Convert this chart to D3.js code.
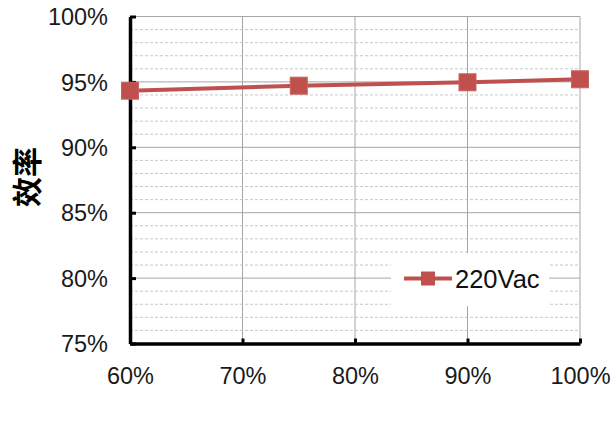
<!DOCTYPE html>
<html>
<head>
<meta charset="utf-8">
<script src="https://cdn.jsdelivr.net/npm/d3@7"></script>
<style>
  body { margin: 0; background: #fff; }
  svg { display: block; font-family: "Liberation Sans", Arial, sans-serif; }
</style>
</head>
<body>
<div id="chart"></div>
<script>
// data
const loads = [60, 75, 90, 100];            // load, %
const eff220 = [94.33, 94.71, 94.97, 95.2];  // efficiency, %
const seriesName = "220Vac";
const xTicks = [60, 70, 80, 90, 100];
const yTicks = [75, 80, 85, 90, 95, 100];
const yMinor = d3.range(75, 100.1, 1);
const yTitle = "效率";

const width = 612, height = 423;
const margin = { left: 130, top: 16.5, right: 32, bottom: 79.5 };
const red = "#C0504D";

const svg = d3.select("#chart").append("svg")
  .attr("width", width).attr("height", height);

const x = d3.scaleLinear().domain([60, 100]).range([margin.left, width - margin.right]);
const y = d3.scaleLinear().domain([75, 100]).range([height - margin.bottom, margin.top]);

// minor gridlines (dashed)
svg.append("g").selectAll("line")
  .data(yMinor.filter(v => v % 5 !== 0))
  .join("line")
  .attr("x1", x(60)).attr("x2", x(100))
  .attr("y1", d => y(d)).attr("y2", d => y(d))
  .attr("stroke", "#c8c8c8").attr("stroke-width", 1)
  .attr("stroke-dasharray", "3,2");

// major gridlines
svg.append("g").selectAll("line")
  .data(yTicks.slice(1))
  .join("line")
  .attr("x1", x(60)).attr("x2", x(100))
  .attr("y1", d => y(d)).attr("y2", d => y(d))
  .attr("stroke", "#a6a6a6").attr("stroke-width", 1);

svg.append("g").selectAll("line")
  .data(xTicks.slice(1))
  .join("line")
  .attr("x1", d => x(d)).attr("x2", d => x(d))
  .attr("y1", y(75)).attr("y2", y(100))
  .attr("stroke", "#a6a6a6").attr("stroke-width", 1);

// axes
const xAxis = d3.axisBottom(x).tickValues(xTicks).tickFormat(d => d + "%")
  .tickSizeInner(-5).tickSizeOuter(0).tickPadding(24);
const yAxis = d3.axisLeft(y).tickValues(yTicks).tickFormat(d => d + "%")
  .tickSizeInner(-6).tickSizeOuter(0).tickPadding(22);

const gx = svg.append("g")
  .attr("transform", `translate(0,${y(75)})`)
  .call(xAxis);
const gy = svg.append("g")
  .attr("transform", `translate(${x(60)},0)`)
  .call(yAxis);

[gx, gy].forEach(g => {
  g.select(".domain").attr("stroke", "#000").attr("stroke-width", 3.5);
  g.selectAll(".tick line").attr("stroke", "#000").attr("stroke-width", 3);
  g.selectAll(".tick text")
    .attr("font-size", 23.5).attr("fill", "#1a1a1a")
    .attr("font-family", "'Liberation Sans', Arial, sans-serif");
});
gx.selectAll(".tick text").attr("dy", "0.71em");
gy.selectAll(".tick text").attr("dy", "0.35em");

// series
const pts = loads.map((d, i) => [d, eff220[i]]);
svg.append("path")
  .datum(pts)
  .attr("fill", "none")
  .attr("stroke", red).attr("stroke-width", 4)
  .attr("d", d3.line().x(d => x(d[0])).y(d => y(d[1])));

const ms = 17;
svg.append("g").selectAll("rect")
  .data(pts)
  .join("rect")
  .attr("x", d => x(d[0]) - ms / 2).attr("y", d => y(d[1]) - ms / 2)
  .attr("width", ms).attr("height", ms)
  .attr("fill", red).attr("stroke", "#c9615e").attr("stroke-width", 1);

// legend
const lg = svg.append("g");
lg.append("rect")
  .attr("x", 391).attr("y", 253).attr("width", 158).attr("height", 53)
  .attr("fill", "#fff");
lg.append("line")
  .attr("x1", 404).attr("x2", 452).attr("y1", 278.5).attr("y2", 278.5)
  .attr("stroke", red).attr("stroke-width", 4);
lg.append("rect")
  .attr("x", 421).attr("y", 271.5).attr("width", 14).attr("height", 14)
  .attr("fill", red);
lg.append("text")
  .attr("x", 455).attr("y", 288)
  .attr("font-size", 25.5).attr("fill", "#111")
  .text(seriesName);

// y title
svg.append("text")
  .attr("transform", `translate(38,${177}) rotate(-90)`)
  .attr("text-anchor", "middle")
  .attr("font-family", "'Noto Sans CJK SC', sans-serif")
  .attr("font-weight", "bold")
  .attr("font-size", 30)
  .attr("fill", "#000")
  .text(yTitle);
</script>
</body>
</html>
